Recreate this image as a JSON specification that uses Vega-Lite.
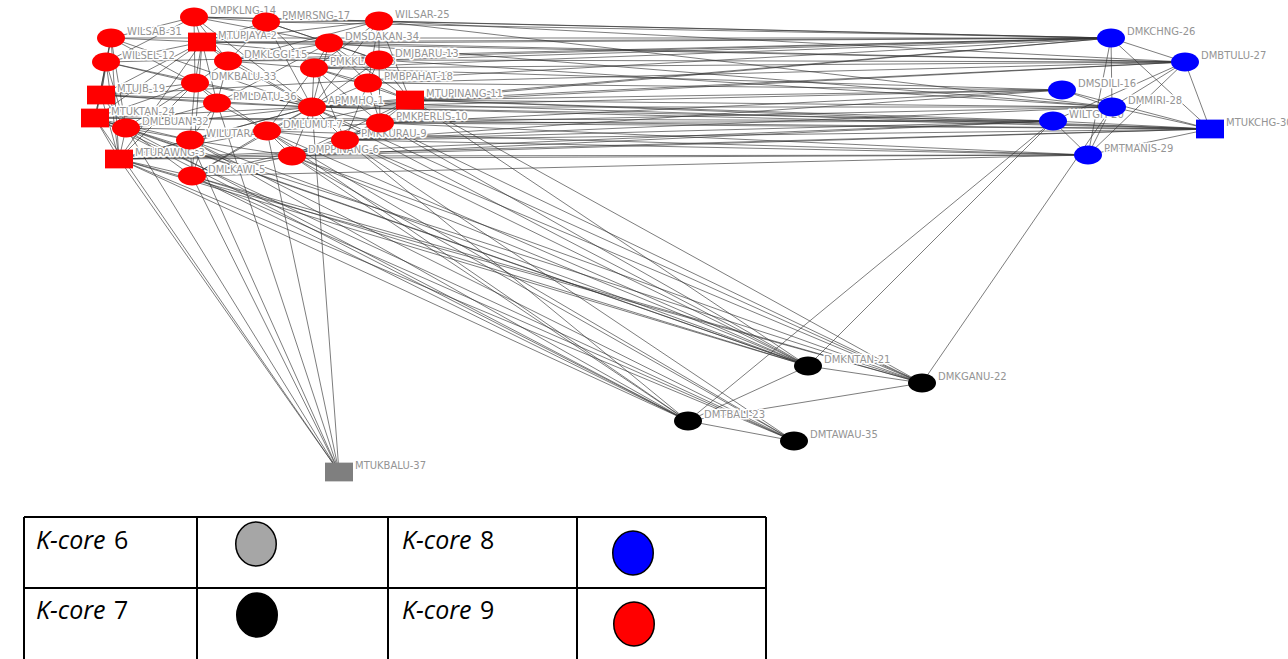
{
"$schema": "https://vega.github.io/schema/vega-lite/v6.json",
"width": 1288, "height": 659, "padding": 0,
"autosize": {"type": "fit", "contains": "padding"},
"background": "white",
"config": {"view": {"stroke": null}},
"datasets": {
"nodes": [
{"n":14,"name":"DMPKLNG-14","x":194,"y":17,"core":9,"form":"oval"},
{"n":17,"name":"PMMRSNG-17","x":266,"y":22,"core":9,"form":"oval"},
{"n":25,"name":"WILSAR-25","x":379,"y":21,"core":9,"form":"oval"},
{"n":31,"name":"WILSAB-31","x":111,"y":38,"core":9,"form":"oval"},
{"n":2,"name":"MTUPJAYA-2","x":202,"y":42,"core":9,"form":"box"},
{"n":34,"name":"DMSDAKAN-34","x":329,"y":43,"core":9,"form":"oval"},
{"n":15,"name":"DMKLGGI-15","x":228,"y":61,"core":9,"form":"oval"},
{"n":13,"name":"DMJBARU-13","x":379,"y":60,"core":9,"form":"oval"},
{"n":12,"name":"WILSEL-12","x":106,"y":62,"core":9,"form":"oval"},
{"n":8,"name":"PMKKLANG-8","x":314,"y":68,"core":9,"form":"oval"},
{"n":33,"name":"DMKBALU-33","x":195,"y":83,"core":9,"form":"oval"},
{"n":18,"name":"PMBPAHAT-18","x":368,"y":83,"core":9,"form":"oval"},
{"n":19,"name":"MTUJB-19","x":101,"y":95,"core":9,"form":"box"},
{"n":36,"name":"PMLDATU-36","x":217,"y":103,"core":9,"form":"oval"},
{"n":1,"name":"APMMHQ-1","x":312,"y":107,"core":9,"form":"oval"},
{"n":11,"name":"MTUPINANG-11","x":410,"y":100,"core":9,"form":"box"},
{"n":24,"name":"MTUKTAN-24","x":95,"y":118,"core":9,"form":"box"},
{"n":10,"name":"PMKPERLIS-10","x":380,"y":123,"core":9,"form":"oval"},
{"n":32,"name":"DMLBUAN-32","x":126,"y":128,"core":9,"form":"oval"},
{"n":4,"name":"WILUTARA-4","x":190,"y":140,"core":9,"form":"oval"},
{"n":7,"name":"DMLUMUT-7","x":267,"y":131,"core":9,"form":"oval"},
{"n":9,"name":"PMKKURAU-9","x":345,"y":140,"core":9,"form":"oval"},
{"n":3,"name":"MTURAWNG-3","x":119,"y":159,"core":9,"form":"box"},
{"n":6,"name":"DMPPINANG-6","x":292,"y":156,"core":9,"form":"oval"},
{"n":5,"name":"DMLKAWI-5","x":192,"y":176,"core":9,"form":"oval"},
{"n":26,"name":"DMKCHNG-26","x":1111,"y":38,"core":8,"form":"oval"},
{"n":27,"name":"DMBTULU-27","x":1185,"y":62,"core":8,"form":"oval"},
{"n":16,"name":"DMSDILI-16","x":1062,"y":90,"core":8,"form":"oval"},
{"n":28,"name":"DMMIRI-28","x":1112,"y":107,"core":8,"form":"oval"},
{"n":20,"name":"WILTGH-20","x":1053,"y":121,"core":8,"form":"oval"},
{"n":30,"name":"MTUKCHG-30","x":1210,"y":129,"core":8,"form":"box"},
{"n":29,"name":"PMTMANIS-29","x":1088,"y":155,"core":8,"form":"oval"},
{"n":21,"name":"DMKNTAN-21","x":808,"y":366,"core":7,"form":"oval"},
{"n":22,"name":"DMKGANU-22","x":922,"y":383,"core":7,"form":"oval"},
{"n":23,"name":"DMTBALI-23","x":688,"y":421,"core":7,"form":"oval"},
{"n":35,"name":"DMTAWAU-35","x":794,"y":441,"core":7,"form":"oval"},
{"n":37,"name":"MTUKBALU-37","x":339,"y":472,"core":6,"form":"box"}
],
"edges": [
{"s":1,"t":2},{"s":1,"t":3},{"s":1,"t":4},{"s":1,"t":5},{"s":1,"t":6},{"s":1,"t":7},{"s":1,"t":8},{"s":1,"t":9},{"s":1,"t":10},{"s":1,"t":11},{"s":1,"t":12},{"s":1,"t":13},{"s":1,"t":14},{"s":1,"t":15},{"s":1,"t":17},{"s":1,"t":18},{"s":1,"t":19},{"s":1,"t":24},{"s":1,"t":25},{"s":1,"t":31},{"s":1,"t":32},{"s":1,"t":33},{"s":1,"t":34},{"s":1,"t":36},
{"s":2,"t":3},{"s":2,"t":5},{"s":2,"t":12},{"s":2,"t":13},{"s":2,"t":14},{"s":2,"t":15},{"s":2,"t":17},{"s":2,"t":19},{"s":2,"t":24},{"s":2,"t":25},{"s":2,"t":31},{"s":2,"t":33},{"s":2,"t":34},{"s":2,"t":36},
{"s":3,"t":4},{"s":3,"t":5},{"s":3,"t":6},{"s":3,"t":7},{"s":3,"t":12},{"s":3,"t":19},{"s":3,"t":24},{"s":3,"t":31},{"s":3,"t":32},{"s":3,"t":33},
{"s":5,"t":4},{"s":5,"t":6},{"s":5,"t":7},{"s":5,"t":9},{"s":5,"t":32},{"s":5,"t":36},
{"s":6,"t":4},{"s":6,"t":7},{"s":6,"t":9},{"s":6,"t":10},{"s":6,"t":11},
{"s":7,"t":4},{"s":7,"t":8},{"s":7,"t":9},{"s":7,"t":10},{"s":7,"t":11},{"s":7,"t":32},{"s":7,"t":33},{"s":7,"t":36},
{"s":8,"t":9},{"s":8,"t":10},{"s":8,"t":11},{"s":8,"t":13},{"s":8,"t":15},{"s":8,"t":17},{"s":8,"t":18},{"s":8,"t":25},{"s":8,"t":34},
{"s":9,"t":10},{"s":9,"t":11},{"s":9,"t":18},
{"s":10,"t":11},{"s":10,"t":13},{"s":10,"t":18},
{"s":11,"t":13},{"s":11,"t":18},{"s":11,"t":25},{"s":11,"t":34},
{"s":12,"t":14},{"s":12,"t":19},{"s":12,"t":24},{"s":12,"t":31},{"s":12,"t":32},{"s":12,"t":33},
{"s":13,"t":15},{"s":13,"t":17},{"s":13,"t":18},{"s":13,"t":25},{"s":13,"t":34},
{"s":14,"t":15},{"s":14,"t":17},{"s":14,"t":25},{"s":14,"t":31},{"s":14,"t":33},{"s":14,"t":34},
{"s":15,"t":17},{"s":15,"t":25},{"s":15,"t":33},{"s":15,"t":34},{"s":15,"t":36},
{"s":17,"t":25},{"s":17,"t":34},{"s":18,"t":25},{"s":18,"t":34},
{"s":19,"t":24},{"s":19,"t":31},{"s":19,"t":32},{"s":19,"t":33},{"s":19,"t":36},
{"s":24,"t":4},{"s":24,"t":31},{"s":24,"t":32},{"s":24,"t":33},
{"s":31,"t":32},{"s":31,"t":33},{"s":32,"t":4},{"s":32,"t":33},{"s":32,"t":36},{"s":33,"t":4},{"s":33,"t":36},{"s":36,"t":4},{"s":36,"t":34},
{"s":25,"t":26},{"s":34,"t":26},{"s":2,"t":26},{"s":31,"t":26},{"s":14,"t":26},{"s":17,"t":26},{"s":13,"t":26},{"s":8,"t":26},{"s":11,"t":26},{"s":1,"t":26},{"s":15,"t":26},{"s":12,"t":26},{"s":19,"t":26},
{"s":25,"t":27},{"s":34,"t":27},{"s":13,"t":27},{"s":18,"t":27},{"s":11,"t":27},{"s":1,"t":27},{"s":2,"t":27},{"s":8,"t":27},
{"s":11,"t":16},{"s":18,"t":16},{"s":10,"t":16},{"s":1,"t":16},{"s":8,"t":16},{"s":9,"t":16},
{"s":11,"t":28},{"s":13,"t":28},{"s":25,"t":28},{"s":34,"t":28},{"s":10,"t":28},{"s":9,"t":28},{"s":1,"t":28},
{"s":10,"t":20},{"s":9,"t":20},{"s":11,"t":20},{"s":6,"t":20},{"s":1,"t":20},{"s":3,"t":20},{"s":24,"t":20},
{"s":11,"t":30},{"s":10,"t":30},{"s":9,"t":30},{"s":6,"t":30},{"s":1,"t":30},{"s":3,"t":30},{"s":24,"t":30},{"s":19,"t":30},
{"s":6,"t":29},{"s":9,"t":29},{"s":10,"t":29},{"s":3,"t":29},{"s":5,"t":29},{"s":7,"t":29},
{"s":3,"t":21},{"s":24,"t":21},{"s":5,"t":21},{"s":6,"t":21},{"s":9,"t":21},{"s":10,"t":21},{"s":7,"t":21},{"s":4,"t":21},{"s":11,"t":21},{"s":1,"t":21},{"s":32,"t":21},
{"s":3,"t":22},{"s":5,"t":22},{"s":6,"t":22},{"s":9,"t":22},{"s":10,"t":22},{"s":11,"t":22},{"s":24,"t":22},{"s":1,"t":22},
{"s":3,"t":23},{"s":5,"t":23},{"s":24,"t":23},{"s":6,"t":23},{"s":7,"t":23},{"s":4,"t":23},{"s":32,"t":23},{"s":9,"t":23},
{"s":3,"t":35},{"s":5,"t":35},{"s":6,"t":35},{"s":9,"t":35},{"s":24,"t":35},{"s":4,"t":35},{"s":7,"t":35},
{"s":3,"t":37},{"s":24,"t":37},{"s":5,"t":37},{"s":4,"t":37},{"s":32,"t":37},{"s":7,"t":37},{"s":1,"t":37},{"s":36,"t":37},
{"s":23,"t":21},{"s":23,"t":22},{"s":22,"t":21},{"s":23,"t":35},{"s":23,"t":20},{"s":21,"t":20},{"s":22,"t":28},
{"s":26,"t":28},{"s":26,"t":27},{"s":26,"t":30},{"s":27,"t":30},{"s":28,"t":29},{"s":26,"t":29},{"s":27,"t":29},{"s":20,"t":27},{"s":16,"t":30},{"s":20,"t":30},{"s":29,"t":30},{"s":28,"t":30},{"s":28,"t":27},{"s":20,"t":29},{"s":16,"t":28}
],
"grid": [
{"x":24,"y":517,"x2":766,"y2":517},
{"x":24,"y":588,"x2":766,"y2":588},
{"x":24,"y":517,"x2":24,"y2":659},
{"x":197,"y":517,"x2":197,"y2":659},
{"x":388,"y":517,"x2":388,"y2":659},
{"x":577,"y":517,"x2":577,"y2":659},
{"x":766,"y":517,"x2":766,"y2":659}
],
"keys": [
{"k":6,"label":"K-core","num":"6","x":36,"y":541,"sx":256,"sy":544},
{"k":7,"label":"K-core","num":"7","x":36,"y":611,"sx":257,"sy":615},
{"k":8,"label":"K-core","num":"8","x":402,"y":541,"sx":633,"sy":553},
{"k":9,"label":"K-core","num":"9","x":402,"y":611,"sx":634,"sy":624}
]
},
"encoding": {
"x": {"field": "x", "type": "quantitative", "scale": {"domain": [0, 1288], "nice": false, "zero": false}, "axis": null},
"y": {"field": "y", "type": "quantitative", "scale": {"domain": [0, 659], "nice": false, "zero": false, "reverse": true}, "axis": null}
},
"layer": [
{
"data": {"name": "edges"},
"transform": [
{"lookup": "s", "from": {"data": {"name": "nodes"}, "key": "n", "fields": ["x", "y"]}},
{"lookup": "t", "from": {"data": {"name": "nodes"}, "key": "n", "fields": ["x", "y"]}, "as": ["x2", "y2"]}
],
"mark": {"type": "rule", "stroke": "#333333", "strokeWidth": 0.8, "opacity": 0.8, "clip": true},
"encoding": {"x2": {"field": "x2"}, "y2": {"field": "y2"}}
},
{
"data": {"name": "nodes"},
"mark": {"type": "text", "align": "left", "baseline": "middle", "dx": 16, "dy": -6, "font": "DejaVu Sans", "fontSize": 10, "fill": "white", "stroke": "white", "strokeWidth": 3, "strokeJoin": "round", "clip": true},
"encoding": {"text": {"field": "name"}}
},
{
"data": {"name": "nodes"},
"mark": {"type": "text", "align": "left", "baseline": "middle", "dx": 16, "dy": -6, "font": "DejaVu Sans", "fontSize": 10, "fill": "#949494", "clip": true},
"encoding": {"text": {"field": "name"}}
},
{
"data": {"name": "nodes"},
"mark": {"type": "point", "filled": true, "opacity": 1, "clip": true},
"encoding": {
"color": {"field": "core", "type": "nominal", "scale": {"domain": [6, 7, 8, 9], "range": ["#7f7f7f", "#000000", "#0000ff", "#ff0000"]}, "legend": null},
"shape": {"field": "form", "type": "nominal", "scale": {"domain": ["oval", "box"], "range": ["M -1 0 C -1 -0.37 -0.552 -0.67 0 -0.67 C 0.552 -0.67 1 -0.37 1 0 C 1 0.37 0.552 0.67 0 0.67 C -0.552 0.67 -1 0.37 -1 0 Z", "M -1 -0.67 L 1 -0.67 L 1 0.67 L -1 0.67 Z"]}, "legend": null},
"size": {"value": 784}
}
},
{
"data": {"name": "grid"},
"mark": {"type": "rule", "stroke": "#000000", "strokeWidth": 2, "clip": true},
"encoding": {"x2": {"field": "x2"}, "y2": {"field": "y2"}}
},
{
"data": {"name": "keys"},
"mark": {"type": "point", "filled": true, "opacity": 1, "stroke": "#000000", "strokeWidth": 1.5, "shape": "M -0.92 0 C -0.92 -0.552 -0.508 -1 0 -1 C 0.508 -1 0.92 -0.552 0.92 0 C 0.92 0.552 0.508 1 0 1 C -0.508 1 -0.92 0.552 -0.92 0 Z", "size": 1936, "clip": true},
"encoding": {
"x": {"field": "sx", "type": "quantitative"},
"y": {"field": "sy", "type": "quantitative"},
"fill": {"field": "k", "type": "nominal", "scale": {"domain": [6, 7, 8, 9], "range": ["#a6a6a6", "#000000", "#0000ff", "#ff0000"]}, "legend": null}
}
},
{
"data": {"name": "keys"},
"mark": {"type": "text", "align": "left", "baseline": "middle", "font": "Open Sans", "fontStyle": "italic", "fontSize": 25, "fill": "#000000", "clip": true},
"encoding": {"text": {"field": "label"}}
},
{
"data": {"name": "keys"},
"mark": {"type": "text", "align": "left", "baseline": "middle", "dx": 78, "font": "Open Sans", "fontSize": 25, "fill": "#000000", "clip": true},
"encoding": {"text": {"field": "num"}}
}
]
}
